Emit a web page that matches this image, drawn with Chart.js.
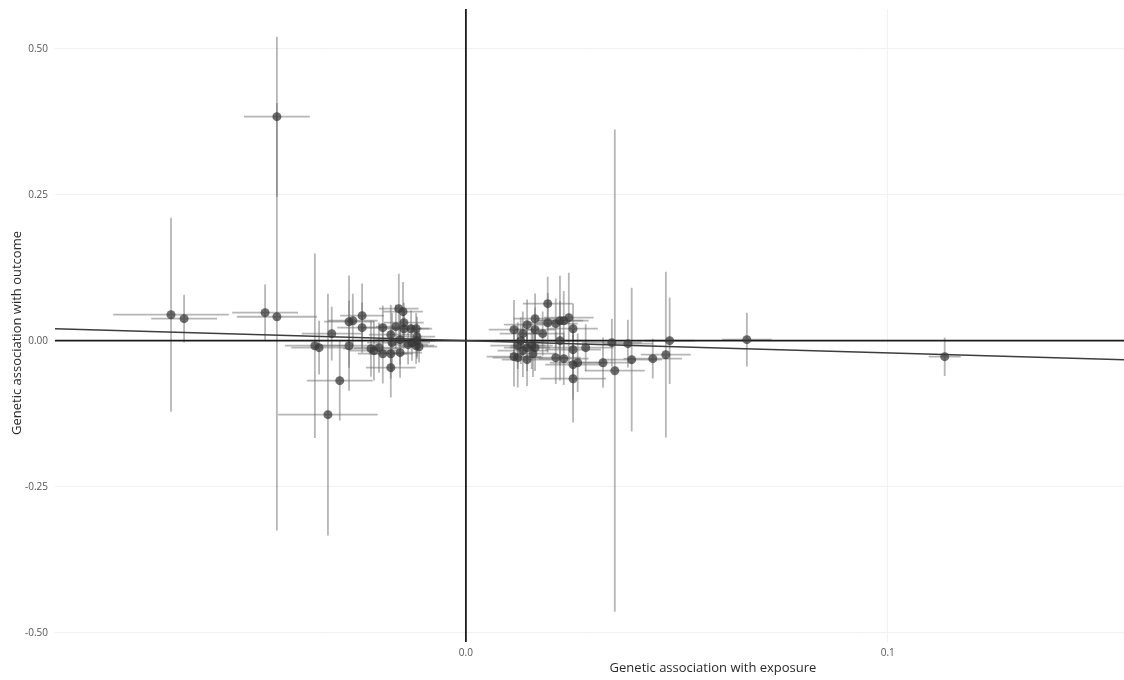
<!DOCTYPE html>
<html>
<head>
<meta charset="utf-8">
<script src="https://cdn.jsdelivr.net/npm/chart.js@4/dist/chart.umd.min.js"></script>
<style>
  body { margin: 0; background: #fff; }
  #wrap { width: 1124px; height: 680px; position: relative; }
</style>
</head>
<body>
<div id="wrap"><canvas id="mrChart"></canvas></div>
<script>
// SNP effects: beta on exposure (x) and on outcome (y), with error bar half-widths
const snpX = [
  -0.0699, -0.0668, -0.0476, -0.0448, -0.0448, -0.0358, -0.0348, -0.0327, -0.0318, -0.0299,
  -0.0277, -0.0268, -0.0246, -0.0246, -0.0277, -0.0197, -0.0159, -0.0149, -0.0178, -0.0166,
  -0.0147, -0.0147, -0.0130, -0.0118, -0.0116, -0.0175, -0.0156, -0.0225, -0.0218, -0.0206,
  -0.0197, -0.0178, -0.0156, -0.0178, -0.0137, -0.0128, -0.0118, -0.0111, -0.0116,
  0.0194, 0.0114, 0.0145, 0.0164, 0.0164, 0.0135, 0.0182, 0.0194, 0.0213, 0.0223,
  0.0232, 0.0244, 0.0254, 0.0223, 0.0130, 0.0123, 0.0135, 0.0145, 0.0156, 0.0164,
  0.0114, 0.0123, 0.0145, 0.0159, 0.0254, 0.0284, 0.0213, 0.0232, 0.0254, 0.0265,
  0.0325, 0.0254, 0.0346, 0.0353, 0.0384, 0.0393, 0.0443, 0.0474, 0.0483, 0.0666,
  0.1135
];
const snpY = [
  0.0445, 0.0377, 0.0480, 0.0410, 0.3836, -0.0086, -0.0120, -0.1267, 0.0120, -0.0685,
  0.0325, 0.0342, 0.0428, 0.0223, -0.0086, 0.0223, 0.0548, 0.0497, 0.0103, 0.0240,
  0.0308, 0.0205, 0.0205, 0.0205, 0.0068, -0.0034, 0.0017, -0.0137, -0.0171, -0.0120,
  -0.0223, -0.0223, -0.0205, -0.0462, -0.0068, -0.0034, -0.0086, -0.0103, 0.0000,
  0.0634, 0.0188, 0.0274, 0.0377, 0.0188, 0.0120, 0.0120, 0.0308, 0.0291, 0.0342,
  0.0342, 0.0394, 0.0205, 0.0000, 0.0000, -0.0086, -0.0171, -0.0120, -0.0086, -0.0120,
  -0.0274, -0.0291, -0.0325, -0.0223, -0.0154, -0.0120, -0.0291, -0.0308, -0.0411, -0.0377,
  -0.0377, -0.0651, -0.0034, -0.0514, -0.0051, -0.0325, -0.0308, -0.0240, 0.0000, 0.0017,
  -0.0274
];
const snpXerr = [
  0.0137, 0.0078, 0.0078, 0.0095, 0.0078, 0.0071, 0.0066, 0.0118, 0.0071, 0.0078,
  0.0059, 0.0059, 0.0052, 0.0059, 0.0071, 0.0052, 0.0047, 0.0047, 0.0052, 0.0047,
  0.0047, 0.0043, 0.0043, 0.0038, 0.0043, 0.0059, 0.0059, 0.0066, 0.0059, 0.0059,
  0.0059, 0.0052, 0.0052, 0.0059, 0.0047, 0.0043, 0.0043, 0.0043, 0.0043,
  0.0059, 0.0060, 0.0055, 0.0052, 0.0050, 0.0055, 0.0050, 0.0052, 0.0052, 0.0055,
  0.0059, 0.0059, 0.0059, 0.0071, 0.0060, 0.0065, 0.0060, 0.0055, 0.0050, 0.0060,
  0.0065, 0.0060, 0.0060, 0.0055, 0.0066, 0.0066, 0.0059, 0.0059, 0.0066, 0.0066,
  0.0071, 0.0078, 0.0071, 0.0071, 0.0059, 0.0071, 0.0069, 0.0059, 0.0059, 0.0059,
  0.0038
];
const snpYerr = [
  0.166, 0.041, 0.048, 0.366, 0.137, 0.158, 0.046, 0.207, 0.046, 0.068,
  0.079, 0.046, 0.055, 0.043, 0.077, 0.038, 0.060, 0.051, 0.051, 0.038,
  0.034, 0.034, 0.031, 0.027, 0.034, 0.051, 0.043, 0.048, 0.051, 0.043,
  0.051, 0.043, 0.043, 0.051, 0.034, 0.031, 0.031, 0.027, 0.031,
  0.046, 0.051, 0.043, 0.043, 0.038, 0.038, 0.038, 0.051, 0.043, 0.077,
  0.051, 0.077, 0.043, 0.068, 0.040, 0.040, 0.045, 0.040, 0.040, 0.040,
  0.051, 0.051, 0.045, 0.040, 0.045, 0.040, 0.045, 0.045, 0.060, 0.050,
  0.043, 0.075, 0.041, 0.413, 0.041, 0.123, 0.034, 0.142, 0.074, 0.046,
  0.033
];

// IVW slope (line through the origin)
const ivwSlope = -0.21;

const xRange = [-0.0974, 0.156];
const yRange = [-0.516, 0.568];
const xTicks = [0, 0.1];
const xTickLabels = ['0.0', '0.1'];
const yTicks = [-0.5, -0.25, 0, 0.25, 0.5];
const yTickLabels = ['-0.50', '-0.25', '0.00', '0.25', '0.50'];
const xTitle = 'Genetic association with exposure';
const yTitle = 'Genetic association with outcome';

const points = snpX.map((x, i) => ({ x: x, y: snpY[i] }));

const errorBars = {
  id: 'errorBars',
  beforeDatasetsDraw(chart) {
    const ctx = chart.ctx;
    const sx = chart.scales.x, sy = chart.scales.y;
    const area = chart.chartArea;
    ctx.save();
    ctx.beginPath();
    ctx.rect(area.left, area.top, area.right - area.left, area.bottom - area.top);
    ctx.clip();
    ctx.strokeStyle = 'rgba(110,110,110,0.5)';
    ctx.lineWidth = 1.8;
    for (let i = 0; i < snpX.length; i++) {
      const px = sx.getPixelForValue(snpX[i]);
      const py = sy.getPixelForValue(snpY[i]);
      ctx.beginPath();
      ctx.moveTo(sx.getPixelForValue(snpX[i] - snpXerr[i]), py);
      ctx.lineTo(sx.getPixelForValue(snpX[i] + snpXerr[i]), py);
      ctx.moveTo(px, sy.getPixelForValue(snpY[i] - snpYerr[i]));
      ctx.lineTo(px, sy.getPixelForValue(snpY[i] + snpYerr[i]));
      ctx.stroke();
    }
    ctx.restore();
  }
};

const axisTitles = {
  id: 'axisTitles',
  afterDraw(chart) {
    const ctx = chart.ctx;
    ctx.save();
    ctx.fillStyle = '#2a2a2a';
    ctx.font = '13px "Open Sans", sans-serif';
    ctx.textAlign = 'center';
    ctx.textBaseline = 'middle';
    ctx.fillText(xTitle, 713, 668);
    ctx.translate(17, 333);
    ctx.rotate(-Math.PI / 2);
    ctx.fillText(yTitle, 0, 0);
    ctx.restore();
  }
};

new Chart(document.getElementById('mrChart'), {
  type: 'scatter',
  data: {
    datasets: [
      {
        data: points,
        backgroundColor: 'rgba(55,55,55,0.72)',
        borderWidth: 0,
        pointRadius: 4.5,
        order: 0
      },
      {
        type: 'line',
        data: [{ x: xRange[0], y: ivwSlope * xRange[0] }, { x: xRange[1], y: ivwSlope * xRange[1] }],
        borderColor: '#3d3d3d',
        borderWidth: 1.6,
        pointRadius: 0,
        order: 1
      },
      {
        type: 'line',
        data: [{ x: xRange[0], y: 0 }, { x: xRange[1], y: 0 }],
        borderColor: '#1a1a1a',
        borderWidth: 1.8,
        pointRadius: 0,
        order: 2
      },
      {
        type: 'line',
        data: [{ x: 0, y: yRange[0] }, { x: 0, y: yRange[1] }],
        borderColor: '#1a1a1a',
        borderWidth: 1.8,
        pointRadius: 0,
        order: 3
      }
    ]
  },
  options: {
    responsive: true,
    maintainAspectRatio: false,
    animation: false,
    layout: { autoPadding: false, padding: { top: 9, right: 0, left: 0, bottom: 0 } },
    plugins: { legend: { display: false }, tooltip: { enabled: false } },
    scales: {
      x: {
        type: 'linear',
        min: xRange[0],
        max: xRange[1],
        afterBuildTicks: s => { s.ticks = xTicks.map(v => ({ value: v })); },
        afterFit: s => { s.height = 38; s.paddingLeft = 0; s.paddingRight = 0; },
        grid: { color: '#f1f1f1', lineWidth: 1, drawTicks: false },
        border: { display: false },
        ticks: {
          padding: 5,
          color: '#555',
          font: { family: 'Open Sans', size: 10 },
          callback: (v) => xTickLabels[xTicks.indexOf(v)]
        }
      },
      y: {
        type: 'linear',
        min: yRange[0],
        max: yRange[1],
        afterBuildTicks: s => { s.ticks = yTicks.map(v => ({ value: v })); },
        afterFit: s => { s.width = 55; s.paddingTop = 0; s.paddingBottom = 0; },
        grid: { color: '#f1f1f1', lineWidth: 1, drawTicks: false },
        border: { display: false },
        ticks: {
          padding: 7,
          color: '#555',
          font: { family: 'Open Sans', size: 10 },
          callback: (v) => yTickLabels[yTicks.indexOf(v)]
        }
      }
    }
  },
  plugins: [errorBars, axisTitles]
});
</script>
</body>
</html>
